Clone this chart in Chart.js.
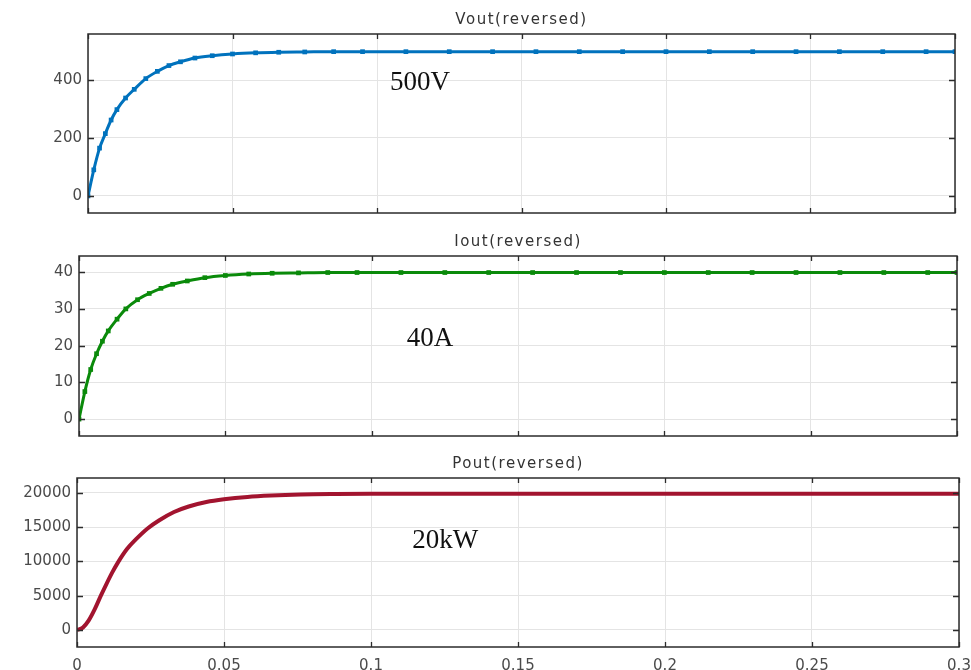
<!DOCTYPE html>
<html>
<head>
<meta charset="utf-8">
<script src="https://cdn.jsdelivr.net/npm/chart.js@4"></script>
<style>
  html, body { margin: 0; padding: 0; background: #fff; }
  #wrap { position: relative; width: 971px; height: 670px; overflow: hidden; }
  canvas { position: absolute; left: 0; }
</style>
</head>
<body>
<div id="wrap">
  <canvas id="vout" width="971" height="222" style="top:0"></canvas>
  <canvas id="iout" width="971" height="222" style="top:222px"></canvas>
  <canvas id="pout" width="971" height="226" style="top:444px"></canvas>
</div>
<script>
// time axis (s) shared by Vout and Iout
const timeVI = [0, 0.002, 0.004, 0.006, 0.008, 0.010, 0.013, 0.016, 0.020, 0.024, 0.028, 0.032,
  0.037, 0.043, 0.050, 0.058, 0.066, 0.075, 0.085, 0.095, 0.11, 0.125, 0.14, 0.155, 0.17,
  0.185, 0.2, 0.215, 0.23, 0.245, 0.26, 0.275, 0.29, 0.3];
const vout = [0, 90, 165, 215, 262, 298, 338, 368, 405, 430, 450, 463,
  476, 484, 490, 494, 496, 497, 498, 498, 498, 498, 498, 498, 498,
  498, 498, 498, 498, 498, 498, 498, 498, 498];
const iout = [0, 7.5, 13.5, 17.8, 21.2, 24, 27.2, 30, 32.5, 34.2, 35.6, 36.7,
  37.6, 38.5, 39.1, 39.5, 39.7, 39.8, 39.9, 39.9, 39.9, 39.9, 39.9, 39.9, 39.9,
  39.9, 39.9, 39.9, 39.9, 39.9, 39.9, 39.9, 39.9, 39.9];

// power trace has its own sample times
const timeP = [0, 0.002, 0.004, 0.006, 0.008, 0.010, 0.012, 0.014, 0.017, 0.020, 0.024, 0.028,
  0.033, 0.038, 0.044, 0.050, 0.058, 0.066, 0.076, 0.088, 0.1, 0.15, 0.2, 0.25, 0.3];
const pout = [0, 350, 1400, 3000, 4900, 6700, 8400, 9900, 11800, 13200, 14800, 16000,
  17200, 18000, 18650, 19050, 19400, 19600, 19750, 19820, 19850, 19850, 19850, 19850, 19850];

const xTickLabels = ['0', '0.05', '0.1', '0.15', '0.2', '0.25', '0.3'];
const voutTicks = [0, 200, 400];
const ioutTicks = [0, 10, 20, 30, 40];
const poutTicks = [0, 5000, 10000, 15000, 20000];
const panelTitles = ['Vout(reversed)', 'Iout(reversed)', 'Pout(reversed)'];
const noteTexts = ['500V', '40A', '20kW'];

const toPoints = (ts, ys) => ts.map((t, i) => ({ x: t, y: ys[i] }));

// scope-style frame, inward ticks, title and note text
const scopeDecor = {
  id: 'scopeDecor',
  afterDraw(chart, args, opts) {
    const { ctx, chartArea: a, scales } = chart;
    ctx.save();
    ctx.strokeStyle = '#2b2b2b';
    ctx.lineWidth = 1.5;
    ctx.strokeRect(a.left, a.top, a.right - a.left, a.bottom - a.top);
    ctx.lineWidth = 1.3;
    ctx.beginPath();
    scales.x.ticks.forEach(t => {
      const px = Math.round(scales.x.getPixelForValue(t.value)) + 0.5;
      ctx.moveTo(px, a.top); ctx.lineTo(px, a.top + 5);
      ctx.moveTo(px, a.bottom); ctx.lineTo(px, a.bottom - 5);
    });
    scales.y.ticks.forEach(t => {
      const py = Math.round(scales.y.getPixelForValue(t.value)) + 0.5;
      ctx.moveTo(a.left, py); ctx.lineTo(a.left + 6, py);
      ctx.moveTo(a.right, py); ctx.lineTo(a.right - 6, py);
    });
    ctx.stroke();

    ctx.fillStyle = '#333';
    ctx.font = '15px "DejaVu Sans"';
    ctx.letterSpacing = '1.5px';
    ctx.textAlign = 'center';
    ctx.textBaseline = 'middle';
    ctx.fillText(opts.title, (a.left + a.right) / 2, a.top - 14);

    ctx.letterSpacing = '0px';
    ctx.fillStyle = '#111';
    ctx.font = '27px "Liberation Serif"';
    ctx.textAlign = 'left';
    ctx.textBaseline = 'alphabetic';
    ctx.fillText(opts.note, scales.x.getPixelForValue(opts.noteX), scales.y.getPixelForValue(opts.noteY));
    ctx.restore();
  }
};

function makePanel(id, points, color, width, yMin, yMax, yTicks, left, right, bottomPad, axisH, showX, note) {
  return new Chart(document.getElementById(id), {
    type: 'line',
    data: {
      datasets: [{
        data: points,
        borderColor: color,
        backgroundColor: color,
        borderWidth: width,
        pointRadius: showX ? 0 : 1.2,
        pointStyle: 'rect',
        cubicInterpolationMode: 'monotone'
      }]
    },
    options: {
      responsive: false,
      animation: false,
      layout: { padding: { top: 34, left: 0, right: right, bottom: bottomPad } },
      plugins: {
        legend: { display: false },
        tooltip: { enabled: false },
        scopeDecor: note
      },
      scales: {
        x: {
          type: 'linear', min: 0, max: 0.3,
          border: { display: false },
          grid: { color: '#e4e4e4', drawTicks: false },
          ticks: {
            display: showX, stepSize: 0.05, padding: 10,
            color: '#4a4a4a', font: { family: 'DejaVu Sans', size: 15 },
            callback: (v, i) => xTickLabels[i]
          },
          afterFit: s => { s.height = axisH; s.paddingLeft = 0; s.paddingRight = 0; }
        },
        y: {
          min: yMin, max: yMax,
          border: { display: false },
          grid: { color: '#e4e4e4', drawTicks: false },
          afterBuildTicks: s => { s.ticks = yTicks.map(v => ({ value: v })); },
          ticks: {
            padding: 6,
            color: '#4a4a4a', font: { family: 'DejaVu Sans', size: 15 },
            callback: v => String(v)
          },
          afterFit: s => { s.width = left; s.paddingTop = 0; s.paddingBottom = 0; }
        }
      }
    },
    plugins: [scopeDecor]
  });
}

makePanel('vout', toPoints(timeVI, vout), '#0072bd', 3, -59, 559, voutTicks, 88, 16, 9, 0, false,
  { title: panelTitles[0], note: noteTexts[0], noteX: 0.1045, noteY: 365 });
makePanel('iout', toPoints(timeVI, iout), '#0a8a0a', 3, -4.6, 44.4, ioutTicks, 79, 14, 8, 0, false,
  { title: panelTitles[1], note: noteTexts[1], noteX: 0.112, noteY: 20 });
makePanel('pout', toPoints(timeP, pout), '#a2142f', 4, -2480, 22160, poutTicks, 77, 12, 0, 23, true,
  { title: panelTitles[2], note: noteTexts[2], noteX: 0.114, noteY: 11950 });
</script>
</body>
</html>
